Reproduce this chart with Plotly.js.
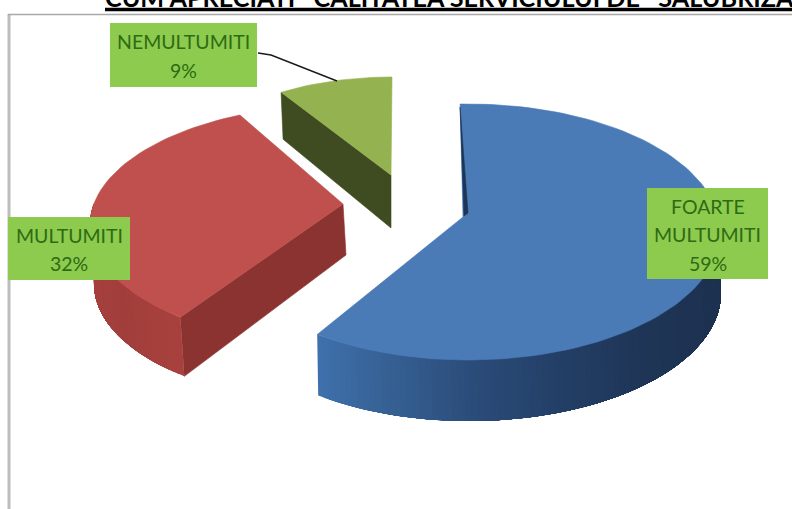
<!DOCTYPE html>
<html><head><meta charset="utf-8">
<script src="https://cdn.plot.ly/plotly-3.0.1.min.js"></script>
<style>html,body{margin:0;padding:0;background:#fff;overflow:hidden}</style>
</head><body><div id="chart" style="width:792px;height:509px"></div>
<script>
const categories = ["FOARTE MULTUMITI", "MULTUMITI", "NEMULTUMITI"];
const labelLines = [["FOARTE", "MULTUMITI", "59%"], ["MULTUMITI", "32%"], ["NEMULTUMITI", "9%"]];
const percents = [59, 32, 9];
const topColors = ["#4a7bb7", "#bf504d", "#94b24f"];
const chartTitle = "CUM APRECIATI\u00a0\u00a0\u00a0CALITATEA SERVICIULUI DE\u00a0\u00a0\u00a0SALUBRIZARE";

// Projection of each exploded slice (start angle clockwise from 12 o'clock)
const view = [
  {apex:[463,217], c:[468,232], a:252, b:128, start:-1.8, stretch:1.029, depth:[1,61]},
  {apex:[343,204], c:[340,225], a:250, b:120, start:219.7, stretch:1.013, depth:[4,59]},
  {apex:[391,175], c:[392,175], a:207, b:98,  start:327.6, stretch:1.0,  depth:[1,50]}
];
const pt = (v,t)=>[v.c[0]+v.a*Math.sin(t*Math.PI/180), v.c[1]-v.b*Math.cos(t*Math.PI/180)];
const arc = (v,t0,t1)=>{const n=Math.max(2,Math.ceil(Math.abs(t1-t0)/2));const o=[];for(let i=0;i<=n;i++)o.push(pt(v,t0+(t1-t0)*i/n));return o;};
const shift = (p,d)=>p.map(q=>[q[0]+d[0],q[1]+d[1]]);
const traces = [];
const poly = (pts,color,w)=>{const c=pts.concat([pts[0]]);traces.push({type:"scatter",mode:"lines",x:c.map(p=>p[0]),y:c.map(p=>p[1]),fill:"toself",fillcolor:color,line:{color:color,width:w===undefined?0.6:w},hoverinfo:"skip",showlegend:false});};
const mix = (a,b,f)=>{const h=s=>[1,3,5].map(i=>parseInt(s.substr(i,2),16));const A=h(a),B=h(b);return "rgb("+A.map((x,i)=>Math.round(x+(B[i]-x)*f)).join(",")+")";};
const ramp = (stops,f)=>{const s=f*(stops.length-1);const i=Math.min(stops.length-2,Math.floor(s));return mix(stops[i],stops[i+1],s-i);};
const sweep = percents.map((p,i)=>p*3.6*view[i].stretch);
const ends = view.map((v,i)=>v.start+sweep[i]);
// Paint the curved wall back to front with overlapping strips so no seams show
const frontFace = (v,t0,t1,n,stops)=>{for(let i=0;i<n;i++){const a0=t0+(t1-t0)*i/n;const top=arc(v,a0,t1);poly(top.concat(shift(top,v.depth).reverse()),ramp(stops,i/(n-1)),0);}};

// Blue slice
{const v=view[0];
 frontFace(v,ends[0],82,90,["#3f70ab","#355f92","#2a4b78","#233f66","#1f3658","#1e3353","#1d3250","#1d3250"]);
 poly(arc(v,v.start,ends[0]).concat([v.apex]),topColors[0]);
 const corner=pt(v,v.start);
 poly([[corner[0],corner[1]+3],[v.apex[0]+5,v.apex[1]-4],[v.apex[0]+1,v.apex[1]-1]],"#1d3557");
}
// Red slice
{const v=view[1];
 const lo=pt(v,v.start);
 poly([v.apex,lo,[lo[0]+v.depth[0],lo[1]+v.depth[1]],[v.apex[0]+3,v.apex[1]+51]],"#8b3330");
 frontFace(v,v.start,280,40,["#a8413e","#a13e3b","#a5403d","#a8423f"]);
 poly(arc(v,v.start,ends[1]).concat([v.apex]),topColors[1]);
}
// Green slice
{const v=view[2];
 const lo=pt(v,v.start);
 poly([v.apex,lo,[lo[0]+2,lo[1]+47],[v.apex[0],v.apex[1]+53]],"#3f4b20");
 poly(arc(v,v.start,ends[2]).concat([v.apex]),topColors[2]);
}
// Leader line for the green slice label
traces.push({type:"scatter",mode:"lines",x:[258,271,337],y:[53,55,81],line:{color:"#1a1a1a",width:1.4},hoverinfo:"skip",showlegend:false});

const labelBoxes = [[647,188,768,279],[8,217,130,280],[110,23,257,87]];
const lineStep = 28.5;
const shapes = [
  {type:"line",x0:9,x1:9,y0:14,y1:509,line:{color:"#bdbdbd",width:3},layer:"above"},
  {type:"line",x0:8,x1:792,y0:14.5,y1:14.5,line:{color:"#a8a8a8",width:1.6},layer:"above"},
  {type:"line",x0:105,x1:792,y0:9.5,y1:9.5,line:{color:"#000",width:3.5},layer:"above"}
];
const annotations = [];
labelBoxes.forEach((b,i)=>{
  shapes.push({type:"rect",x0:b[0],x1:b[2],y0:b[1],y1:b[3],fillcolor:"#8ccb4d",line:{width:0},layer:"above"});
  const L=labelLines[i], cy=(b[1]+b[3])/2;
  L.forEach((t,k)=>annotations.push({x:(b[0]+b[2])/2,y:cy+1+(k-(L.length-1)/2)*lineStep,text:t,showarrow:false,xanchor:"center",yanchor:"middle",font:{family:"Lato, sans-serif",size:19.5,color:"#2f6a14"}}));
});

const layout = {
  width:792,height:509,margin:{l:0,r:0,t:0,b:0},paper_bgcolor:"#fff",plot_bgcolor:"#fff",showlegend:false,
  xaxis:{range:[0,792],visible:false,fixedrange:true},
  yaxis:{range:[509,0],visible:false,fixedrange:true},
  shapes:shapes,annotations:annotations,
  title:{text:"<b>"+chartTitle+"</b>",x:105/792,xanchor:"left",xref:"paper",y:1,yanchor:"top",yref:"container",pad:{t:-11},font:{family:"Lato, sans-serif",size:25.2,color:"#000"}}
};
Plotly.newPlot("chart",traces,layout,{staticPlot:true,displayModeBar:false});
</script></body></html>
